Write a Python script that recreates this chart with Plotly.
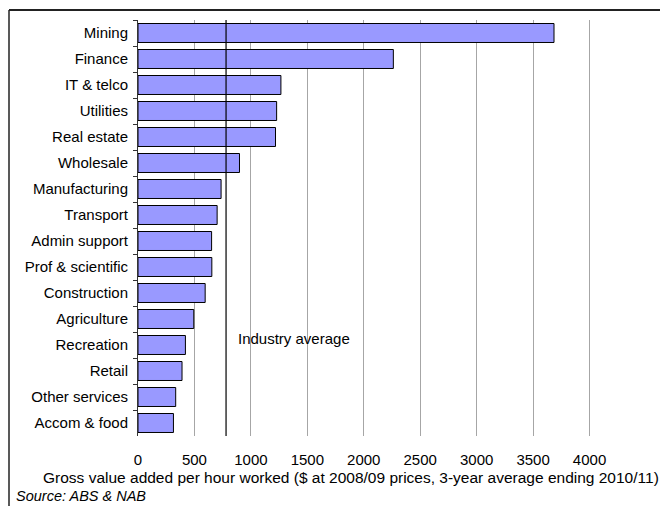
import plotly.graph_objects as go

industries = ["Mining", "Finance", "IT & telco", "Utilities", "Real estate", "Wholesale",
              "Manufacturing", "Transport", "Admin support", "Prof & scientific",
              "Construction", "Agriculture", "Recreation", "Retail", "Other services",
              "Accom & food"]
gva_per_hour = [3685, 2262, 1266, 1228, 1218, 899, 736, 701, 652, 654, 595, 494, 420, 390, 334, 314]
industry_average = 780
x_ticks = [0, 500, 1000, 1500, 2000, 2500, 3000, 3500, 4000]

W, H = 660, 506
ML, MR, MT, MB = 138, 14, 20, 70
PW, PH = W - ML - MR, H - MT - MB


def px_x(px):
    return (px - ML) / PW


def px_y(py):
    return (H - MB - py) / PH


FONT = "Liberation Sans, Arial, sans-serif"
FS = 15

fig = go.Figure()
fig.add_trace(go.Bar(
    x=gva_per_hour, y=industries, orientation="h",
    marker=dict(color="#9999FF", line=dict(color="#000000", width=1)),
    showlegend=False,
))

fig.update_layout(
    width=W, height=H,
    margin=dict(l=ML, r=MR, t=MT, b=MB, pad=0),
    paper_bgcolor="white", plot_bgcolor="white",
    bargap=0.27,
    font=dict(family=FONT, size=FS, color="#000000"),
    xaxis=dict(range=[0, 4500], tickvals=x_ticks, ticktext=[str(v) for v in x_ticks],
               showgrid=True, gridcolor="#A6A6A6", gridwidth=1, zeroline=False,
               showline=False, ticks="", ticklabelstandoff=13,
               tickfont=dict(size=FS, family=FONT)),
    yaxis=dict(autorange="reversed", showgrid=False, showline=True, linecolor="#333333",
               linewidth=1, ticks="outside", ticklen=4, tickcolor="#333333",
               tickson="boundaries", ticklabelstandoff=6,
               tickfont=dict(size=FS, family=FONT)),
)

# Industry average line
fig.add_shape(type="line", xref="x", yref="paper", x0=industry_average, x1=industry_average,
              y0=0, y1=1, line=dict(color="#000000", width=1.2), layer="above")

fig.add_annotation(text="Industry average", xref="paper", yref="paper",
                   x=px_x(236), y=px_y(338), xanchor="left", yanchor="middle",
                   showarrow=False, font=dict(size=FS, family=FONT))

fig.add_annotation(text="Gross value added per hour worked ($ at 2008/09 prices, 3-year average ending 2010/11)",
                   xref="paper", yref="paper", x=px_x(351), y=px_y(477),
                   xanchor="center", yanchor="middle", showarrow=False,
                   font=dict(size=15.5, family=FONT))

fig.add_annotation(text="<i>Source: ABS & NAB</i>", xref="paper", yref="paper",
                   x=px_x(14), y=px_y(496), xanchor="left", yanchor="middle",
                   showarrow=False, font=dict(size=14.5, family=FONT))

# Outer frame (top and left edges)
fig.add_shape(type="line", xref="paper", yref="paper", x0=px_x(9), x1=px_x(662),
              y0=px_y(10), y1=px_y(10), line=dict(color="#222222", width=2))
fig.add_shape(type="line", xref="paper", yref="paper", x0=px_x(9), x1=px_x(9),
              y0=px_y(10), y1=px_y(510), line=dict(color="#222222", width=1.5))

fig.write_html("out.html")
